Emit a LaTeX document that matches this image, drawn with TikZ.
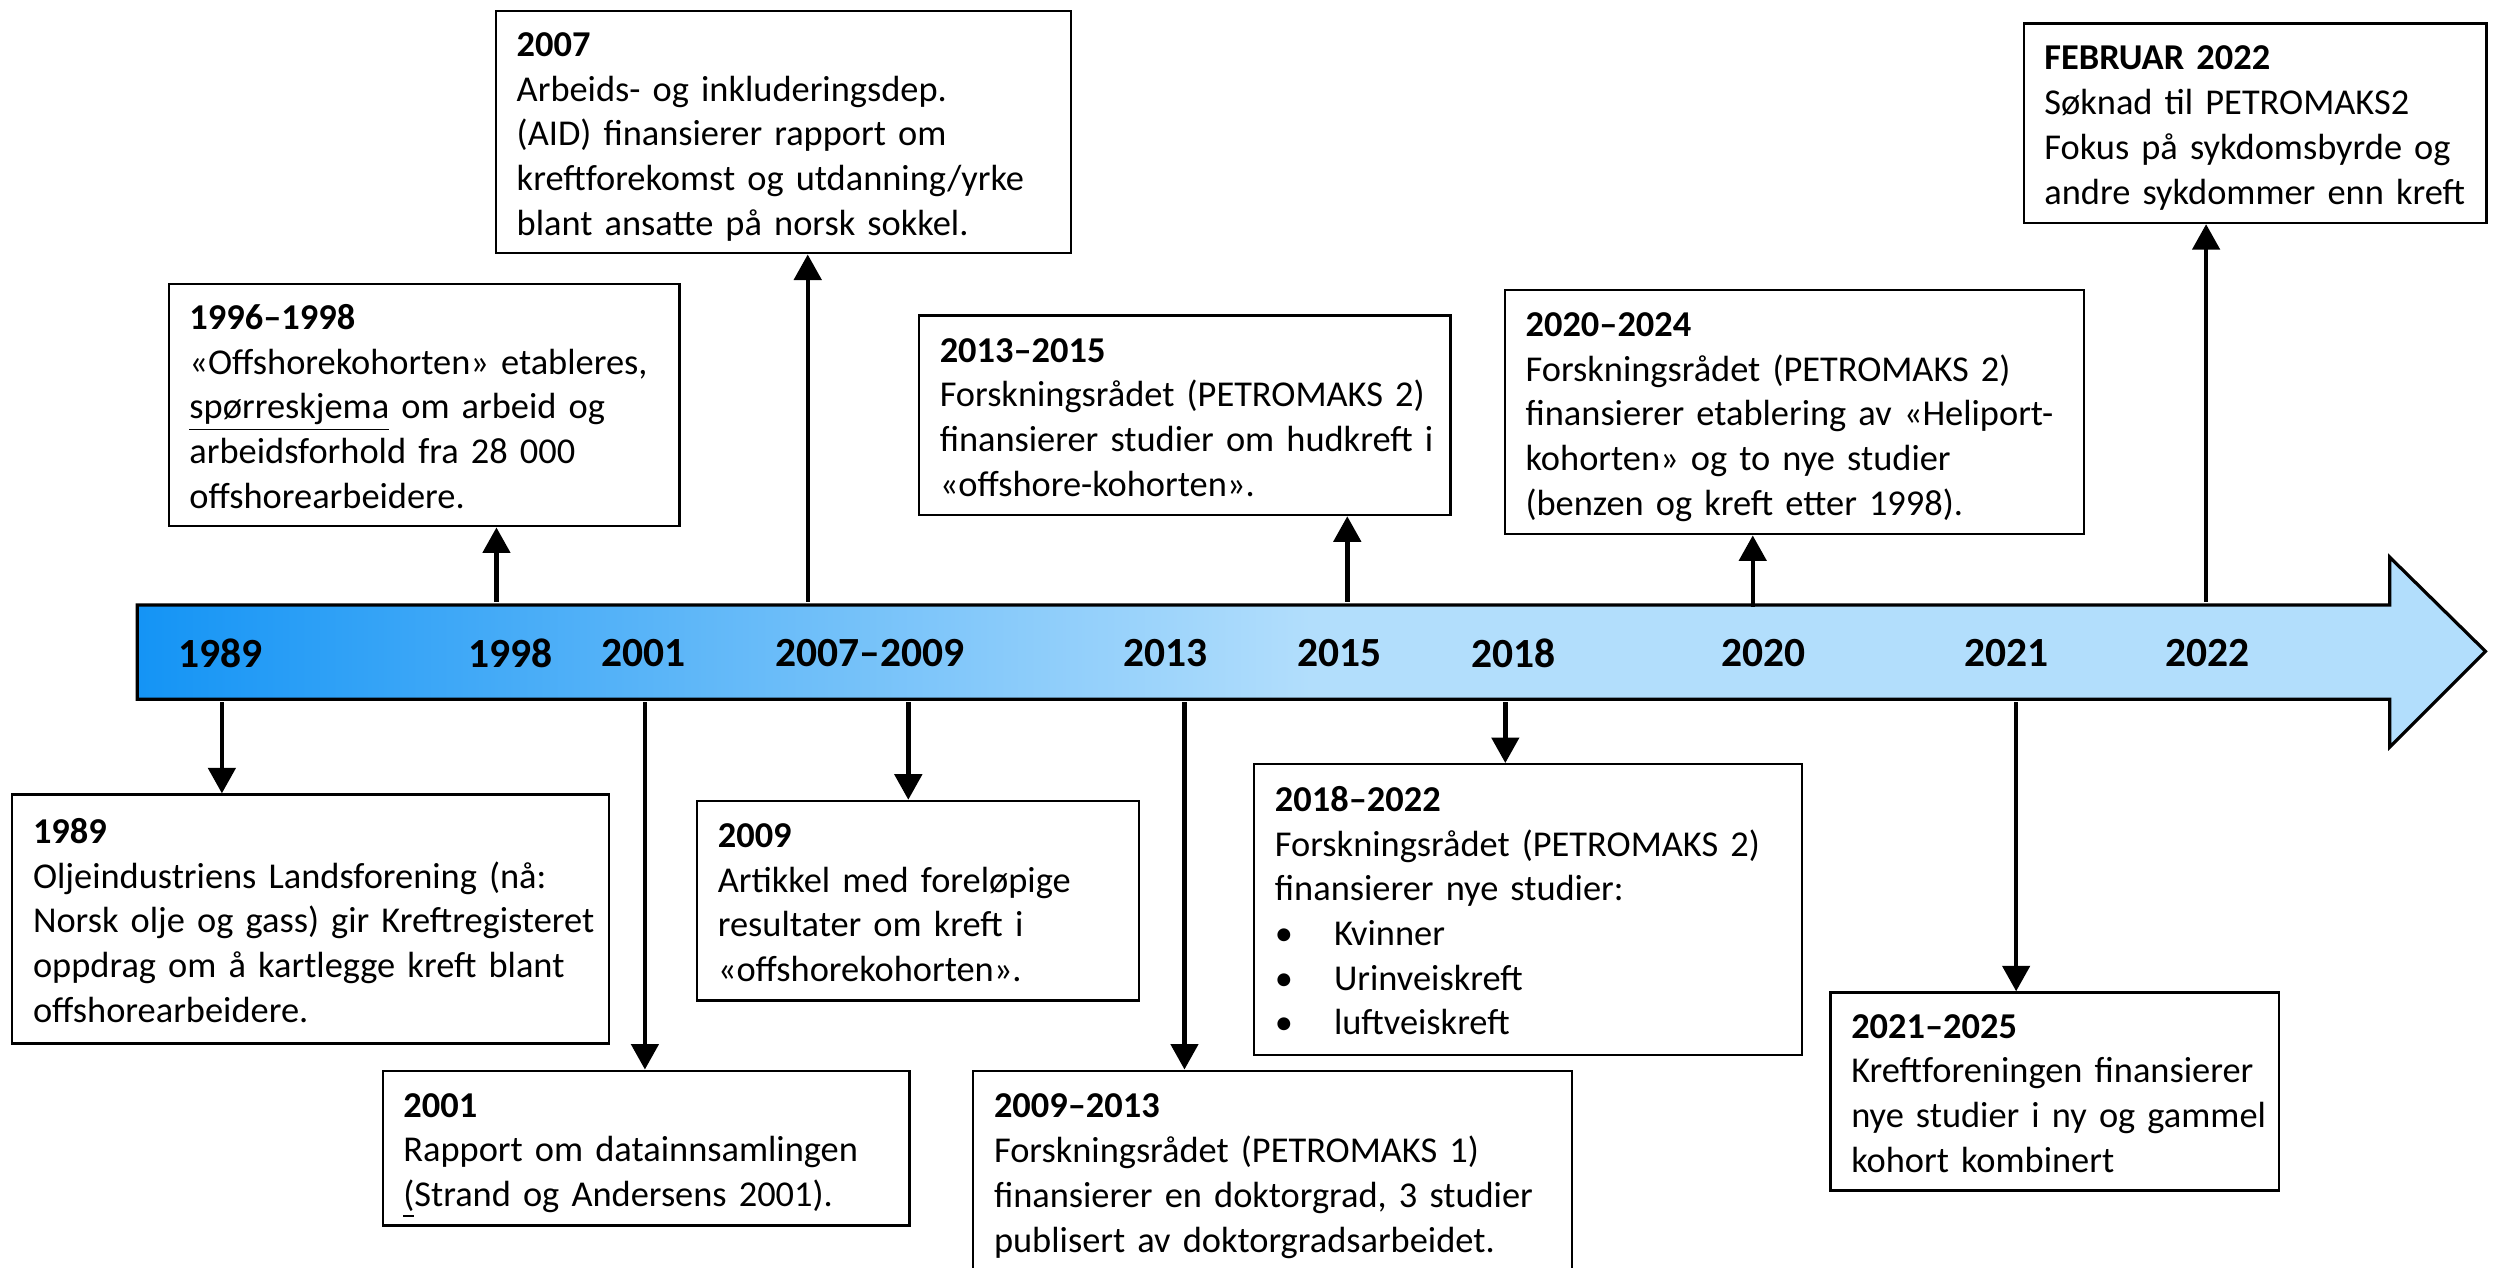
\documentclass[tikz,border=0pt]{standalone}
\usepackage{fontspec}
\setmainfont{Carlito}
\usetikzlibrary{arrows.meta}
\definecolor{barL}{RGB}{20,148,245}
\definecolor{barR}{RGB}{178,222,252}
\pgfdeclarehorizontalshading{barshade}{100bp}{color(0bp)=(barL); color(25bp)=(barL); color(50bp)=(barR); color(100bp)=(barR)}
\newcommand{\boxlines}[1]{\raisebox{-1.5pt}[\height][\depth]{\begin{tabular}{@{}l@{}}#1\end{tabular}}}
\tikzset{
  box/.style={draw, line width=0.7pt, fill=white, anchor=north west, inner xsep=6.5pt, inner ysep=0pt, align=left, font=\fontsize{11.4}{14}\selectfont},
  yearlbl/.style={font=\bfseries\fontsize{13}{15}\selectfont, inner sep=0pt},
  conn/.style={line width=1.4pt, -{Triangle[length=8pt,width=8.5pt]}}
}
\begin{document}
\begin{tikzpicture}[x=0.5pt,y=-0.5pt]
\useasboundingbox (0,0) rectangle (1568,794);
\fill[white] (0,0) rectangle (1568,794);
% timeline arrow
\draw[line width=1pt, shading=barshade] (86,379) -- (1497,379) -- (1497,349) -- (1557,408) -- (1497,468) -- (1497,438) -- (86,438) -- cycle;
% year labels
\node[yearlbl] (y1989) at (138,409) {1989};
\node[yearlbl] (y1998) at (320,409) {1998};
\node[yearlbl] (y2001) at (403,409) {2001};
\node[yearlbl] (y2007) at (545,409) {2007–2009};
\node[yearlbl] (y2013) at (730,409) {2013};
\node[yearlbl] (y2015) at (839,409) {2015};
\node[yearlbl] (y2018) at (948,409) {2018};
\node[yearlbl] (y2020) at (1105,409) {2020};
\node[yearlbl] (y2021) at (1257,409) {2021};
\node[yearlbl] (y2022) at (1383,409) {2022};
% connector start points on the bar
\coordinate (a1989) at (139,440);
\coordinate (a1998) at (311,377);
\coordinate (a2007) at (506,377);
\coordinate (a2001) at (404,440);
\coordinate (a2009) at (569,440);
\coordinate (a2015) at (844,377);
\coordinate (a2013) at (742,440);
\coordinate (a2018) at (943,440);
\coordinate (a2020) at (1098,380);
\coordinate (a2021) at (1263,440);
\coordinate (a2022) at (1382,377);
% boxes
\node[box, minimum width=187pt, minimum height=78pt, text width=174pt] (b1989) at (7,497)
 {\boxlines{\textbf{1989}\\Oljeindustriens Landsforening (nå:\\Norsk olje og gass) gir Kreftregisteret\\oppdrag om å kartlegge kreft blant\\offshorearbeidere.}};
\node[box, minimum width=160pt, minimum height=76pt, text width=147pt] (b1996) at (105,177)
 {\boxlines{\textbf{1996–1998}\\«Offshorekohorten» etableres,\\\underline{spørreskjema} om arbeid og\\arbeidsforhold fra 28 000\\offshorearbeidere.}};
\node[box, minimum width=180pt, minimum height=76pt, text width=167pt] (b2007) at (310,6)
 {\boxlines{\textbf{2007}\\Arbeids- og inkluderingsdep.\\(AID) finansierer rapport om\\kreftforekomst og utdanning/yrke\\blant ansatte på norsk sokkel.}};
\node[box, minimum width=165pt, minimum height=48.5pt, text width=152pt] (b2001) at (239,670)
 {\boxlines{\textbf{2001}\\Rapport om datainnsamlingen\\\underline{(}Strand og Andersens 2001).}};
\node[box, minimum width=138.5pt, minimum height=62.5pt, text width=125.5pt] (b2009) at (436,501)
 {\boxlines{\textbf{2009}\\Artikkel med foreløpige\\resultater om kreft i\\«offshorekohorten».}};
\node[box, minimum width=166.5pt, minimum height=62.5pt, text width=153.5pt] (b2013) at (575,197)
 {\boxlines{\textbf{2013–2015}\\Forskningsrådet (PETROMAKS 2)\\finansierer studier om hudkreft i\\«offshore-kohorten».}};
\node[box, minimum width=187.5pt, minimum height=63pt, text width=174.5pt] (b2009b) at (609,670)
 {\boxlines{\textbf{2009–2013}\\Forskningsrådet (PETROMAKS 1)\\finansierer en doktorgrad, 3 studier\\publisert av doktorgradsarbeidet.}};
\node[box, minimum width=171.5pt, minimum height=91pt, text width=158.5pt] (b2018) at (785,478)
 {\boxlines{\textbf{2018–2022}\\Forskningsrådet (PETROMAKS 2)\\finansierer nye studier:\\\makebox[18.5pt][l]{•}Kvinner\\\makebox[18.5pt][l]{•}Urinveiskreft\\\makebox[18.5pt][l]{•}luftveiskreft}};
\node[box, minimum width=181.5pt, minimum height=76.5pt, text width=168.5pt] (b2020) at (942,181)
 {\boxlines{\textbf{2020–2024}\\Forskningsrådet (PETROMAKS 2)\\finansierer etablering av «Heliport-\\kohorten» og to nye studier\\(benzen og kreft etter 1998).}};
\node[box, minimum width=140.5pt, minimum height=62pt, text width=127.5pt] (b2021) at (1146,621)
 {\boxlines{\textbf{2021–2025}\\Kreftforeningen finansierer\\nye studier i ny og gammel\\kohort kombinert}};
\node[box, minimum width=145pt, minimum height=62.5pt, text width=132pt] (b2022) at (1267,14)
 {\boxlines{\textbf{FEBRUAR 2022}\\Søknad til PETROMAKS2\\Fokus på sykdomsbyrde og\\andre sykdommer enn kreft}};
% connectors
\draw[conn] (a1989) -- (a1989 |- b1989.north);
\draw[conn] (a1998) -- (a1998 |- b1996.south);
\draw[conn] (a2007) -- (a2007 |- b2007.south);
\draw[conn] (a2001) -- (a2001 |- b2001.north);
\draw[conn] (a2009) -- (a2009 |- b2009.north);
\draw[conn] (a2015) -- (a2015 |- b2013.south);
\draw[conn] (a2013) -- (a2013 |- b2009b.north);
\draw[conn] (a2018) -- (a2018 |- b2018.north);
\draw[conn] (a2020) -- (a2020 |- b2020.south);
\draw[conn] (a2021) -- (a2021 |- b2021.north);
\draw[conn] (a2022) -- (a2022 |- b2022.south);
\end{tikzpicture}
\end{document}
